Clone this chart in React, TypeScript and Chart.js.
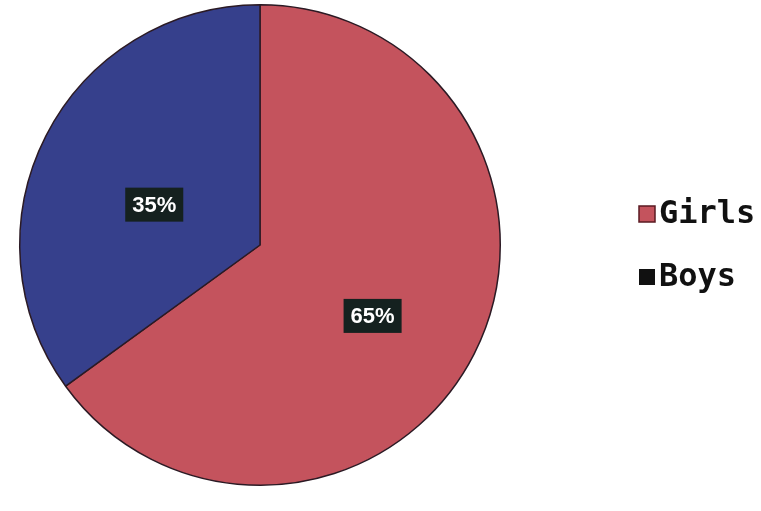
import React, { useEffect, useRef } from "react";
import { Chart, registerables } from "chart.js";

Chart.register(...registerables);

const categories = ["Girls", "Boys"];
const values = [65, 35];
const sliceColors = ["#c4535d", "#36408c"];
const legendColors = ["#c4535d", "#111111"];
const valueLabels = ["65%", "35%"];

const overlayPlugin = {
  id: "overlay",
  afterDatasetsDraw(chart: any) {
    const ctx = chart.ctx;
    const meta = chart.getDatasetMeta(0);
    ctx.save();
    // value labels
    meta.data.forEach((arc: any, i: number) => {
      const { x, y, startAngle, endAngle, outerRadius } = arc.getProps(
        ["x", "y", "startAngle", "endAngle", "outerRadius"],
        true
      );
      const mid = (startAngle + endAngle) / 2;
      const f = i === 0 ? 0.54 : 0.48;
      const lx = x + Math.cos(mid) * outerRadius * f - 3;
      const ly = y + Math.sin(mid) * outerRadius * f + 12;
      ctx.font = "bold 22px 'Liberation Sans'";
      const tw = ctx.measureText(valueLabels[i]).width;
      const bw = tw + 14;
      const bh = 34;
      ctx.fillStyle = "#15211f";
      ctx.fillRect(lx - bw / 2, ly - bh / 2, bw, bh);
      ctx.fillStyle = "#ffffff";
      ctx.textAlign = "center";
      ctx.textBaseline = "middle";
      ctx.fillText(valueLabels[i], lx, ly + 1);
    });
    // legend
    const lyPos = [214, 277];
    categories.forEach((c: string, i: number) => {
      const sq = 16;
      const sx = 639;
      ctx.fillStyle = legendColors[i];
      ctx.fillRect(sx, lyPos[i] - sq / 2, sq, sq);
      if (i === 0) {
        ctx.strokeStyle = "#5a1a22";
        ctx.lineWidth = 1.5;
        ctx.strokeRect(sx, lyPos[i] - sq / 2, sq, sq);
      }
      ctx.fillStyle = "#111111";
      ctx.font = "bold 32px 'DejaVu Sans Mono'";
      ctx.textAlign = "left";
      ctx.textBaseline = "middle";
      ctx.fillText(c, 659, lyPos[i] + 1);
    });
    ctx.restore();
  },
};

export default function App() {
  const ref = useRef<HTMLCanvasElement>(null);
  useEffect(() => {
    document.body.style.margin = "0";
    const chart = new Chart(ref.current as HTMLCanvasElement, {
      type: "pie",
      data: {
        labels: categories,
        datasets: [
          {
            data: values,
            backgroundColor: sliceColors,
            borderColor: "#2b1a24",
            borderWidth: 1.5,
          },
        ],
      },
      options: {
        responsive: false,
        animation: false,
        layout: { padding: { left: 17, right: 258, top: 4, bottom: 25 } },
        plugins: {
          legend: { display: false },
          tooltip: { enabled: false },
        },
      },
      plugins: [overlayPlugin],
    });
    return () => chart.destroy();
  }, []);
  return (
    <div style={{ width: 761, height: 511, background: "#ffffff" }}>
      <canvas ref={ref} width={761} height={511} />
    </div>
  );
}
